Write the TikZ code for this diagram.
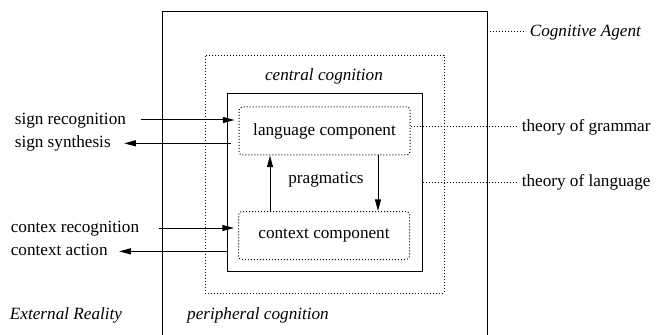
\documentclass[tikz,border=0pt]{standalone}
\usepackage{fontspec}
\setmainfont{Liberation Serif}
\usetikzlibrary{arrows.meta, positioning}

\begin{document}
\begin{tikzpicture}[
    x=0.6pt, y=-0.6pt,
    line width=0.6pt,
    every node/.style={font=\fontsize{10.3}{12}\selectfont},
    ital/.style={font=\fontsize{10.3}{12}\selectfont\itshape},
    dots/.style={dash pattern=on 0.6pt off 1.2pt},
    compbox/.style={draw, dots, rounded corners=2pt, minimum width=102.6pt, minimum height=28.8pt, inner sep=0pt},
    lbl/.style={inner sep=2pt, text height=7.2pt, text depth=2.2pt},
    arrow/.style={-{Triangle[length=7pt, width=3.6pt]}}
]
\useasboundingbox (0,0) rectangle (658,335);

% Boxes
\coordinate (agentSW) at (162,335);
\coordinate (agentNW) at (162,12);
\coordinate (agentNE) at (487,12);
\coordinate (agentSE) at (487,335);
\draw (agentSW) -- (agentNW) -- (agentNE) -- (agentSE);
\node (central) [draw, dots, minimum width=143.4pt, minimum height=142.8pt] at (324.5,174) {};
\node (inner) [draw, minimum width=117pt, minimum height=106.8pt] at (324.5,182) {};
\node (lang) [compbox] at (324.5,131) {language component};
\node (ctx) [compbox] at (324,235.5) {context component};

% Labels
\node (centlbl) [ital] at (324,76) {central cognition};
\node (perilbl) [ital] at (258,315) {peripheral cognition};
\node (extlbl) [ital] at (66,315) {External Reality};
\node (prag) at (326,180) {pragmatics};
\node (agent) [lbl, ital, anchor=west] at (526,32) {Cognitive Agent};
\node (grammar) [lbl, anchor=west] at (518,127) {theory of grammar};
\node (theolang) [lbl, anchor=west] at (518,182) {theory of language};
\node (signrec) [lbl, anchor=west] at (11,120) {sign recognition};
\node (signsyn) [lbl, below=0pt of signrec.south west, anchor=north west] {sign synthesis};
\node (ctxrec) [lbl, anchor=west] at (7,228) {contex recognition};
\node (ctxact) [lbl, below=0pt of ctxrec.south west, anchor=north west] {context action};
\coordinate (up) at (270,182);
\coordinate (down) at (378,182);

% Arrows
\draw[arrow, shorten <=7pt, shorten >=2.4pt] (signrec.east) -- (lang.west |- signrec.east);
\draw[arrow, shorten <=4.8pt, shorten >=5.8pt] (lang.west |- signsyn.east) -- (signsyn.east);
\draw[arrow, shorten <=9.4pt, shorten >=2.4pt] (ctxrec.east) -- (ctx.west |- ctxrec.east);
\draw[arrow, shorten >=4.6pt] (inner.west |- ctxact.east) -- (ctxact.east);
\draw[arrow] (up |- ctx.north) -- (up |- lang.south);
\draw[arrow] (down |- lang.south) -- (down |- ctx.north);

% Dotted leaders
\draw[dots] (agentNE |- agent.west) -- (agent.west);
\draw[dots] (lang.east |- grammar.west) -- (grammar.west);
\draw[dots, shorten >=1pt] (inner.east |- theolang.west) -- (theolang.west);

\end{tikzpicture}
\end{document}
